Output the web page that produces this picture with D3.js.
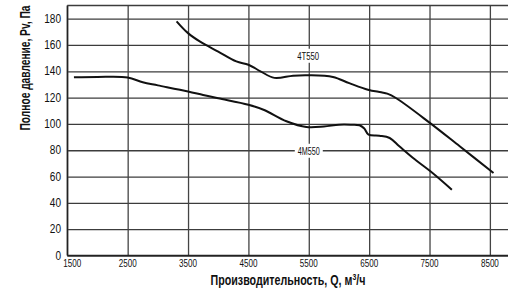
<!DOCTYPE html>
<html>
<head>
<meta charset="utf-8">
<script src="https://cdn.jsdelivr.net/npm/d3@7"></script>
<style>
  body { margin: 0; background: #fff; }
  svg text { font-family: "Liberation Sans", "Roboto", sans-serif; fill: #111; }
</style>
</head>
<body>
<svg id="chart"></svg>
<script>
// tick values
const xTicks = [1500, 2500, 3500, 4500, 5500, 6500, 7500, 8500];
const yTicks = [0, 20, 40, 60, 80, 100, 120, 140, 160, 180];

// 4T550 curve (Q, Pv)
const q4T = [3310, 3500, 3700, 4000, 4300, 4500, 4700, 4930, 5240, 5500, 5900, 6170, 6480, 6700, 6800, 6950, 7500, 8000, 8560];
const p4T = [178, 169, 162.5, 155, 147.5, 145, 140, 135, 136.7, 137, 135.7, 131, 126, 124, 123, 119.5, 101, 83, 62.7];

// 4M550 curve
const q4M = [1610, 2000, 2500, 2750, 3000, 3500, 3750, 4000, 4500, 4750, 5130, 5460, 5750, 6000, 6200, 6340, 6420, 6490, 6670, 6840, 7000, 7250, 7550, 7870];
const p4M = [135.4, 135.7, 135.3, 131.6, 129.3, 124.7, 122, 119.5, 114.6, 110.8, 102, 97.6, 98, 99.4, 99.4, 99, 96.5, 91.8, 91, 89.3, 83, 73.3, 62.7, 50];

// curve labels
const labelNames = ['4T550', '4M550'];
const labelQ = [5490, 5500];
const labelP = [151.8, 79.6];

const W = 517, H = 289;
const svg = d3.select('#chart').attr('width', W).attr('height', H);

const x = d3.scaleLinear().domain([1500, 8800]).range([67.3, 508]);
const y = d3.scaleLinear().domain([0, 190]).range([255.5, 5.5]);

const chart = svg.append('g');

// squeeze a text horizontally so it reads like a condensed face
function condense(sel, width) {
    sel.each(function (d) {
        const w = this.getComputedTextLength();
        const k = (typeof width === 'function' ? width(d) : width) / w;
        const t = d3.select(this);
        const ax = +t.attr('x') || 0;
        t.attr('transform', `translate(${ax * (1 - k)},0) scale(${k},1)`);
    });
}

// horizontal grid
chart.append('g')
    .attr('transform', `translate(${x(1500)},0)`)
    .call(d3.axisLeft(y).tickValues(yTicks).tickSize(-(x(8800) - x(1500))).tickFormat(''))
    .call(g => g.select('.domain').remove())
    .call(g => g.selectAll('line').attr('stroke', '#3c3c3c').attr('stroke-width', 1.3));

// vertical grid
chart.append('g')
    .attr('transform', `translate(0,${y(0)})`)
    .call(d3.axisBottom(x).tickValues(xTicks).tickSize(-(y(0) - y(190))).tickFormat(''))
    .call(g => g.select('.domain').remove())
    .call(g => g.selectAll('line').attr('stroke', '#444').attr('stroke-width', 1.3));

// frame: left, bottom, top
chart.append('line').attr('x1', x(1500)).attr('x2', x(1500)).attr('y1', y(190)).attr('y2', y(0))
    .attr('stroke', '#222').attr('stroke-width', 1.4);
chart.append('line').attr('x1', x(1500)).attr('x2', x(8800)).attr('y1', y(0)).attr('y2', y(0))
    .attr('stroke', '#222').attr('stroke-width', 1.4);
chart.append('line').attr('x1', x(1500)).attr('x2', x(8800)).attr('y1', y(190)).attr('y2', y(190))
    .attr('stroke', '#3c3c3c').attr('stroke-width', 1.3);

// y tick labels
chart.selectAll('.ylab').data(yTicks).join('text')
    .attr('class', 'ylab')
    .attr('x', 61)
    .attr('y', d => y(d))
    .attr('dy', '0.35em')
    .attr('text-anchor', 'end')
    .attr('font-size', 12)
    .text(d => d)
    .call(condense, d => String(d).length * 5.6);

// x tick labels
chart.selectAll('.xlab').data(xTicks).join('text')
    .attr('class', 'xlab')
    .attr('x', d => x(d) + (d === 1500 ? 5 : 0))
    .attr('y', 267)
    .attr('text-anchor', 'middle')
    .attr('font-size', 11)
    .text(d => d)
    .call(condense, 18);

// curves
const line = d3.line().x(d => x(d[0])).y(d => y(d[1])).curve(d3.curveCatmullRom.alpha(0.5));
const series = [d3.zip(q4T, p4T), d3.zip(q4M, p4M)];
chart.selectAll('.curve').data(series).join('path')
    .attr('class', 'curve')
    .attr('d', line)
    .attr('fill', 'none')
    .attr('stroke', '#111')
    .attr('stroke-width', 2)
    .attr('stroke-linejoin', 'round');

// curve labels with white backing
const lab = chart.selectAll('.clab').data(labelNames).join('g')
    .attr('class', 'clab')
    .attr('transform', (d, i) => `translate(${x(labelQ[i])},${y(labelP[i])})`);
lab.append('rect').attr('x', -14).attr('y', -7).attr('width', 28).attr('height', 14).attr('fill', '#fff');
lab.append('text')
    .attr('text-anchor', 'middle')
    .attr('dy', '0.35em')
    .attr('font-size', 11.5)
    .text(d => d)
    .call(condense, 22);

// axis titles
svg.append('g')
    .attr('transform', 'translate(30,68) rotate(-90)')
    .append('text')
    .attr('text-anchor', 'middle')
    .attr('font-size', 14)
    .attr('font-weight', 'bold')
    .text('Полное давление, Pv, Па')
    .call(condense, 125);

const xt = svg.append('text')
    .attr('x', 288)
    .attr('y', 285)
    .attr('text-anchor', 'middle')
    .attr('font-size', 14)
    .attr('font-weight', 'bold');
xt.append('tspan').text('Производительность, Q, м');
xt.append('tspan').attr('font-size', 9).attr('dy', -5).text('3');
xt.append('tspan').attr('dy', 5).text('/ч');
xt.call(condense, 155);
</script>
</body>
</html>
